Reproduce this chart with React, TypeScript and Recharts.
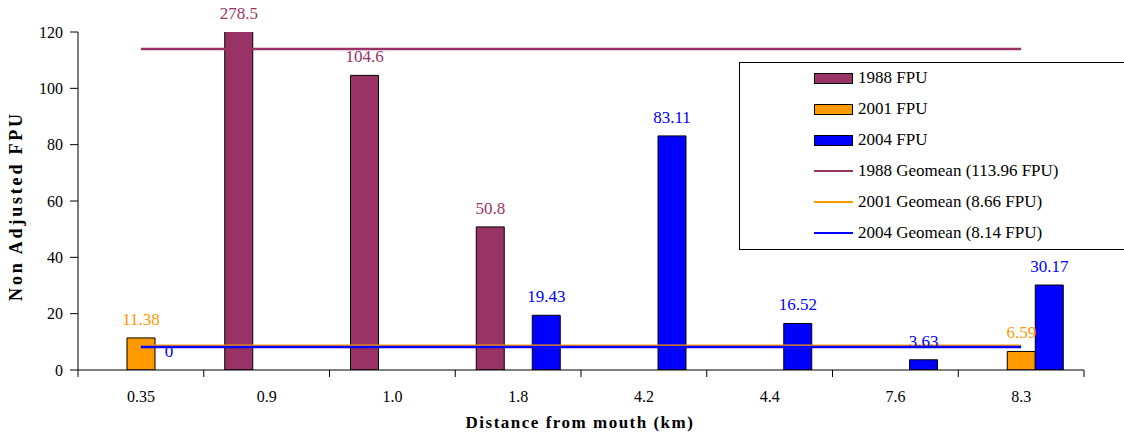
import React from "react";
import { ComposedChart, Bar, Line, XAxis, YAxis, Rectangle } from "recharts";

// distance categories (km) and FPU per survey year
const categories = ["0.35", "0.9", "1.0", "1.8", "4.2", "4.4", "7.6", "8.3"];
const fpu1988 = [null, 278.5, 104.6, 50.8, null, null, null, null];
const fpu2001 = [11.38, null, null, null, null, null, null, 6.59];
const fpu2004 = [0, null, null, 19.43, 83.11, 16.52, 3.63, 30.17];
const geomean1988 = 113.96;
const geomean2001 = 8.66;
const geomean2004 = 8.14;
const yTicks = [0, 20, 40, 60, 80, 100, 120];

const MAROON = "#993366";
const ORANGE = "#FF9900";
const BLUE = "#0000FF";
const FONT = "'Liberation Serif', 'Times New Roman', serif";

const W = 1124;
const H = 436;
const M = { top: 32, right: 40, bottom: 0, left: 0 };
const Y_AXIS_W = 78;
const X_AXIS_H = 66;
const HALF_BAND = (W - M.left - M.right - Y_AXIS_W) / categories.length / 2;

const legendItems = [
  { name: "1988 FPU", color: MAROON, kind: "bar" },
  { name: "2001 FPU", color: ORANGE, kind: "bar" },
  { name: "2004 FPU", color: BLUE, kind: "bar" },
  { name: `1988 Geomean (${geomean1988} FPU)`, color: MAROON, kind: "line" },
  { name: `2001 Geomean (${geomean2001} FPU)`, color: ORANGE, kind: "line" },
  { name: `2004 Geomean (${geomean2004} FPU)`, color: BLUE, kind: "line" },
];

const data = categories.map((c, i) => ({
  cat: c,
  f1988: fpu1988[i],
  f2001: fpu2001[i],
  f2004: fpu2004[i],
  g1988: geomean1988,
  g2001: geomean2001,
  g2004: geomean2004,
}));

// bar value label; clamps to the plot top when a bar runs off the scale
const barLabel = (color: string) => (props: any) => {
  const { x, y, width, height, value } = props;
  if (value === null || value === undefined) return null;
  const barTop = value === 0 ? Number(y) + Number(height) : Number(y);
  const top = Math.max(barTop, M.top);
  return (
    <text x={Number(x) + Number(width) / 2} y={top - 13} textAnchor="middle" fill={color} fontSize={17} fontFamily={FONT}>
      {value}
    </text>
  );
};

// zero values still need a rect so the label gets drawn, but it isn't painted
const zeroMin = (v: any) => (v === 0 ? 1 : 0);
const bar2004Shape = (props: any) =>
  props.payload && props.payload.f2004 === 0 ? <g /> : <Rectangle {...props} />;

const XTick = (props: any) => {
  const { x, y, payload, index } = props;
  return (
    <g>
      <line x1={x - HALF_BAND} x2={x - HALF_BAND} y1={y} y2={y + 7} stroke="#000" />
      {index === categories.length - 1 && (
        <line x1={x + HALF_BAND} x2={x + HALF_BAND} y1={y} y2={y + 7} stroke="#000" />
      )}
      <text x={x} y={y + 32} textAnchor="middle" fontSize={16} fontFamily={FONT} fill="#000">
        {payload.value}
      </text>
    </g>
  );
};

function Legend() {
  return (
    <div
      style={{
        position: "absolute", left: 739, top: 62, width: W - 739, height: 188,
        border: "1px solid #000", borderRight: "none", boxSizing: "border-box",
        background: "#fff", fontFamily: FONT, fontSize: 17,
      }}
    >
      {legendItems.map((it, i) => (
        <div key={it.name} style={{ position: "absolute", left: 74, top: 5 + i * 31, height: 20, display: "flex", alignItems: "center" }}>
          {it.kind === "bar" ? (
            <div style={{ width: 37, height: 9, background: it.color, border: "1px solid #000" }} />
          ) : (
            <div style={{ width: 39, height: 2.5, background: it.color }} />
          )}
          <span style={{ marginLeft: 5, whiteSpace: "nowrap" }}>{it.name}</span>
        </div>
      ))}
    </div>
  );
}

export default function App() {
  return (
    <div style={{ position: "absolute", left: 0, top: 0, width: W, height: H, background: "#fff" }}>
      <ComposedChart width={W} height={H} data={data} margin={M} barGap={0} barSize={28}>
        <XAxis
          dataKey="cat"
          height={X_AXIS_H}
          tickSize={0}
          tickMargin={0}
          tick={<XTick />}
          axisLine={{ stroke: "#000" }}
          label={() => (
            <text x={580} y={428} textAnchor="middle" fontSize={17} fontWeight="bold" letterSpacing={1.5} fontFamily={FONT} fill="#000">
              Distance from mouth (km)
            </text>
          )}
        />
        <YAxis
          width={Y_AXIS_W}
          domain={[0, 120]}
          ticks={yTicks}
          allowDataOverflow
          tickSize={8}
          tickMargin={7}
          axisLine={{ stroke: "#000" }}
          tickLine={{ stroke: "#000" }}
          tick={{ fontSize: 16, fontFamily: FONT, fill: "#000" }}
          label={() => (
            <text x={22} y={206} transform="rotate(-90 22 206)" textAnchor="middle" fontSize={18} fontWeight="bold" letterSpacing={2.8} fontFamily={FONT} fill="#000">
              Non Adjusted FPU
            </text>
          )}
        />
        <Line dataKey="g1988" stroke={MAROON} strokeWidth={2.5} dot={false} isAnimationActive={false} />
        <Bar dataKey="f1988" fill={MAROON} stroke="#000" strokeWidth={1} isAnimationActive={false} label={barLabel(MAROON)} />
        <Bar dataKey="f2001" fill={ORANGE} stroke="#000" strokeWidth={1} isAnimationActive={false} label={barLabel(ORANGE)} />
        <Bar dataKey="f2004" fill={BLUE} stroke="#000" strokeWidth={1} minPointSize={zeroMin} shape={bar2004Shape} isAnimationActive={false} label={barLabel(BLUE)} />
        <Line dataKey="g2001" stroke={ORANGE} strokeWidth={2} dot={false} isAnimationActive={false} />
        <Line dataKey="g2004" stroke={BLUE} strokeWidth={2.5} dot={false} isAnimationActive={false} />
      </ComposedChart>
      <Legend />
    </div>
  );
}
